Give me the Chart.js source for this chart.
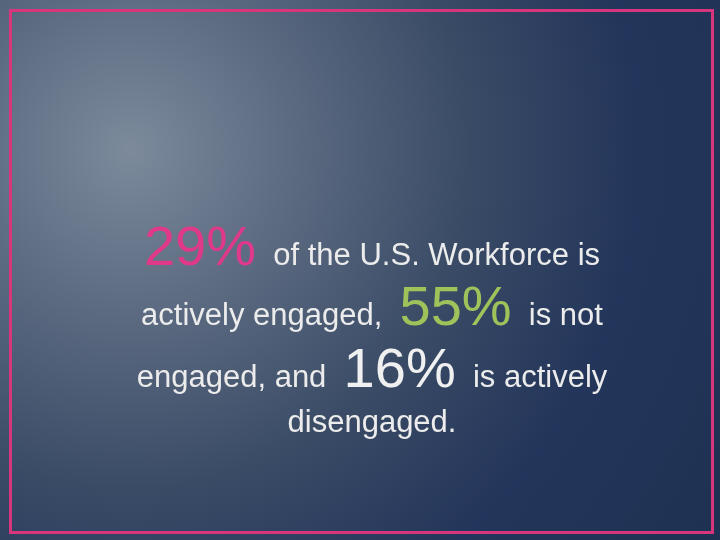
<!DOCTYPE html>
<html><head><meta charset="utf-8">
<script src="https://cdn.jsdelivr.net/npm/chart.js@4"></script>
<style>html,body{margin:0;padding:0;width:720px;height:540px;overflow:hidden;background:#1f3050;font-family:"Liberation Sans"}
#wrap{position:absolute;left:0;top:0;width:720px;height:540px;background:radial-gradient(circle at 130px 150px,#7c8a9c 0%,#5d6c82 22%,#3a4b66 48%,#23355a 72%,#1f3152 100%)}
#frame{position:absolute;left:9px;top:9px;width:699px;height:519px;border:3px solid #d8367c}
canvas{position:absolute;left:0;top:0}</style></head>
<body><div id="wrap"><div id="frame"></div><canvas id="c" width="720" height="540"></canvas></div>
<script>
const categories = ["actively engaged", "not engaged", "actively disengaged"];
const percentages = [29, 55, 16];
const highlightColors = ["#e0398a", "#9fc25a", "#f0f0f0"];
const textPieces = [
  [["P",0],["  of the U.S. Workforce is"]],
  [["actively engaged,  "],["P",1],["  is not"]],
  [["engaged, and  "],["P",2],["  is actively"]],
  [["disengaged."]]
];
const baselines = [265, 325, 387, 432];
const textPlugin = {
  id: 'slideText',
  afterDraw(chart){
    const ctx = chart.ctx;
    const small = '31px "Liberation Sans"';
    const big = '56px "Liberation Sans"';
    textPieces.forEach((line, li)=>{
      const segs = line.map(s=>{
        if (s[0]==="P"){ const i=s[1]; return {t: percentages[i]+"%", f: big, c: highlightColors[i]}; }
        return {t: s[0], f: small, c: "#ececec"};
      });
      let w=0; segs.forEach(s=>{ctx.font=s.f; s.w=ctx.measureText(s.t).width; w+=s.w;});
      let x = 372 - w/2;
      ctx.save(); ctx.textBaseline='alphabetic';
      segs.forEach(s=>{ctx.font=s.f; ctx.fillStyle=s.c; ctx.fillText(s.t,x,baselines[li]); x+=s.w;});
      ctx.restore();
    });
  }
};
function draw(){
new Chart(document.getElementById('c'), {
  type: 'bar',
  data: { labels: categories, datasets: [{ data: percentages, backgroundColor: 'rgba(0,0,0,0)', borderWidth: 0 }] },
  options: {
    responsive: false, animation: false, events: [],
    plugins: { legend: {display:false}, tooltip: {enabled:false} },
    scales: { x: {display:false}, y: {display:false, min: 0, max: 1000} }
  },
  plugins: [textPlugin]
});
}
Promise.all([document.fonts.load('31px "Liberation Sans"'), document.fonts.load('56px "Liberation Sans"')]).then(draw, draw);
</script></body></html>
